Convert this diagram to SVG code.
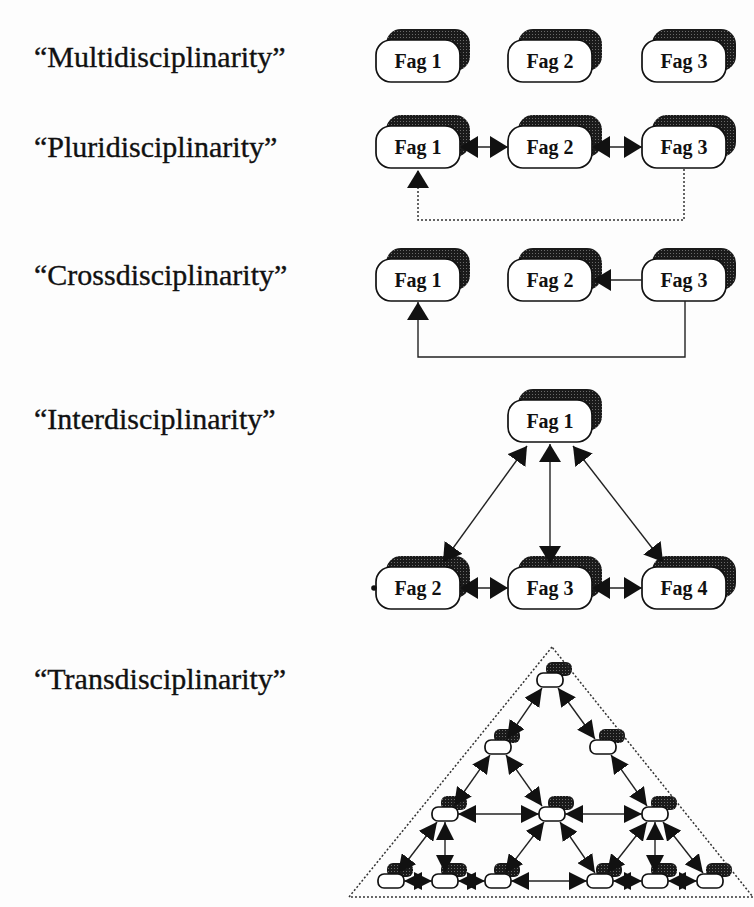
<svg xmlns="http://www.w3.org/2000/svg" width="754" height="907" viewBox="0 0 754 907">
<defs>
<style>
.lbl{font-family:"Liberation Serif","Times New Roman",serif;font-size:30px;fill:#111;stroke:#111;stroke-width:0.35}
.nt{font-family:"Liberation Serif","Times New Roman",serif;font-size:20px;font-weight:bold;fill:#111;text-anchor:middle}
.box{fill:#fff;stroke:#111;stroke-width:1.7}
.sh{fill:url(#ht)}
.ln{fill:none;stroke:#222;stroke-width:1.4}
.dot{fill:none;stroke:#333;stroke-width:1.5;stroke-dasharray:2 2}
.arr{marker-start:url(#a);marker-end:url(#a)}
.arr1{marker-end:url(#a)}
.sarr{marker-start:url(#s);marker-end:url(#s)}
</style>
<pattern id="ht" width="3" height="3" patternUnits="userSpaceOnUse"><rect width="3" height="3" fill="#1a1a1a"/><rect x="1" y="1" width="1" height="1" fill="#6a6a6a"/></pattern>
<marker id="a" viewBox="0 0 18 22" refX="18" refY="11" markerWidth="18" markerHeight="22" markerUnits="userSpaceOnUse" orient="auto-start-reverse"><path d="M0,0 L18,11 L0,22 z" fill="#111"/></marker>
<marker id="s" viewBox="0 0 18 18" refX="18" refY="9" markerWidth="18" markerHeight="18" markerUnits="userSpaceOnUse" orient="auto-start-reverse"><path d="M0,0 L18,9 L0,18 z" fill="#111"/></marker>
</defs>
<rect width="754" height="907" fill="#fdfdfd"/>

<g id="labels">
<text class="lbl" x="34" y="67">“Multidisciplinarity”</text>
<text class="lbl" x="34" y="157">“Pluridisciplinarity”</text>
<text class="lbl" x="34" y="285">“Crossdisciplinarity”</text>
<text class="lbl" x="34" y="429">“Interdisciplinarity”</text>
<text class="lbl" x="34" y="689">“Transdisciplinarity”</text>
</g>

<!-- Multidisciplinarity -->
<g id="m1"><rect class="sh" x="386" y="29" width="84" height="42" rx="15"/><rect class="box" x="376" y="40" width="84" height="42" rx="15"/><text class="nt" x="418" y="68">Fag 1</text></g>
<g id="m2"><rect class="sh" x="518" y="29" width="84" height="42" rx="15"/><rect class="box" x="508" y="40" width="84" height="42" rx="15"/><text class="nt" x="550" y="68">Fag 2</text></g>
<g id="m3"><rect class="sh" x="652" y="29" width="84" height="42" rx="15"/><rect class="box" x="642" y="40" width="84" height="42" rx="15"/><text class="nt" x="684" y="68">Fag 3</text></g>

<!-- Pluridisciplinarity -->
<g id="p1"><rect class="sh" x="386" y="115" width="84" height="42" rx="15"/><rect class="box" x="376" y="126" width="84" height="42" rx="15"/><text class="nt" x="418" y="154">Fag 1</text></g>
<g id="p2"><rect class="sh" x="518" y="115" width="84" height="42" rx="15"/><rect class="box" x="508" y="126" width="84" height="42" rx="15"/><text class="nt" x="550" y="154">Fag 2</text></g>
<g id="p3"><rect class="sh" x="652" y="115" width="84" height="42" rx="15"/><rect class="box" x="642" y="126" width="84" height="42" rx="15"/><text class="nt" x="684" y="154">Fag 3</text></g>

<!-- Crossdisciplinarity -->
<g id="c1"><rect class="sh" x="386" y="248" width="84" height="42" rx="15"/><rect class="box" x="376" y="259" width="84" height="42" rx="15"/><text class="nt" x="418" y="287">Fag 1</text></g>
<g id="c2"><rect class="sh" x="518" y="248" width="84" height="42" rx="15"/><rect class="box" x="508" y="259" width="84" height="42" rx="15"/><text class="nt" x="550" y="287">Fag 2</text></g>
<g id="c3"><rect class="sh" x="652" y="248" width="84" height="42" rx="15"/><rect class="box" x="642" y="259" width="84" height="42" rx="15"/><text class="nt" x="684" y="287">Fag 3</text></g>

<!-- Interdisciplinarity -->
<g id="i1"><rect class="sh" x="518" y="389" width="84" height="42" rx="15"/><rect class="box" x="508" y="400" width="84" height="42" rx="15"/><text class="nt" x="550" y="428">Fag 1</text></g>
<g id="i2"><rect class="sh" x="386" y="556" width="84" height="42" rx="15"/><rect class="box" x="376" y="567" width="84" height="42" rx="15"/><text class="nt" x="418" y="595">Fag 2</text><circle cx="374" cy="588" r="2.8" fill="#111"/></g>
<g id="i3"><rect class="sh" x="518" y="556" width="84" height="42" rx="15"/><rect class="box" x="508" y="567" width="84" height="42" rx="15"/><text class="nt" x="550" y="595">Fag 3</text></g>
<g id="i4"><rect class="sh" x="652" y="556" width="84" height="42" rx="15"/><rect class="box" x="642" y="567" width="84" height="42" rx="15"/><text class="nt" x="684" y="595">Fag 4</text></g>

<!-- Transdisciplinarity nodes -->
<g id="t0"><rect class="sh" x="546" y="662" width="26" height="14" rx="6"/><rect class="box" x="537" y="673" width="26" height="14" rx="6"/></g>
<g id="t1"><rect class="sh" x="494" y="729" width="26" height="14" rx="6"/><rect class="box" x="485" y="740" width="26" height="14" rx="6"/></g>
<g id="t2"><rect class="sh" x="599" y="729" width="26" height="14" rx="6"/><rect class="box" x="590" y="740" width="26" height="14" rx="6"/></g>
<g id="t3"><rect class="sh" x="441" y="796" width="26" height="14" rx="6"/><rect class="box" x="432" y="807" width="26" height="14" rx="6"/></g>
<g id="t4"><rect class="sh" x="548" y="796" width="26" height="14" rx="6"/><rect class="box" x="539" y="807" width="26" height="14" rx="6"/></g>
<g id="t5"><rect class="sh" x="651" y="796" width="26" height="14" rx="6"/><rect class="box" x="642" y="807" width="26" height="14" rx="6"/></g>
<g id="t6"><rect class="sh" x="387" y="863" width="26" height="14" rx="6"/><rect class="box" x="378" y="874" width="26" height="14" rx="6"/></g>
<g id="t7"><rect class="sh" x="441" y="863" width="26" height="14" rx="6"/><rect class="box" x="432" y="874" width="26" height="14" rx="6"/></g>
<g id="t8"><rect class="sh" x="494" y="863" width="26" height="14" rx="6"/><rect class="box" x="485" y="874" width="26" height="14" rx="6"/></g>
<g id="t9"><rect class="sh" x="596" y="863" width="26" height="14" rx="6"/><rect class="box" x="587" y="874" width="26" height="14" rx="6"/></g>
<g id="t10"><rect class="sh" x="651" y="863" width="26" height="14" rx="6"/><rect class="box" x="642" y="874" width="26" height="14" rx="6"/></g>
<g id="t11"><rect class="sh" x="706" y="863" width="26" height="14" rx="6"/><rect class="box" x="697" y="874" width="26" height="14" rx="6"/></g>

<g id="frame"><path class="dot" d="M552,647 L349,897 L753,897 Z"/></g>

<g id="connectors">
<!-- pluri -->
<line class="ln arr" x1="460" y1="147" x2="508" y2="147"/>
<line class="ln arr" x1="592" y1="147" x2="642" y2="147"/>
<path class="dot arr1" d="M684,169 V220 H418 V170"/>
<!-- cross -->
<line class="ln arr1" x1="642" y1="280" x2="593" y2="280"/>
<path class="ln arr1" d="M685,301 V357 H418 V302"/>
<!-- inter -->
<line class="ln arr" x1="550" y1="444" x2="550" y2="564"/>
<line class="ln arr" x1="527" y1="446" x2="443" y2="562"/>
<line class="ln arr" x1="573" y1="446" x2="663" y2="562"/>
<line class="ln arr" x1="460" y1="588" x2="508" y2="588"/>
<line class="ln arr" x1="592" y1="588" x2="642" y2="588"/>
<!-- trans -->
<line class="ln sarr" x1="542" y1="688" x2="507" y2="739"/>
<line class="ln sarr" x1="558" y1="688" x2="595" y2="739"/>
<line class="ln sarr" x1="490" y1="755" x2="454" y2="806"/>
<line class="ln sarr" x1="506" y1="755" x2="542" y2="806"/>
<line class="ln sarr" x1="611" y1="755" x2="647" y2="806"/>
<line class="ln sarr" x1="458" y1="814" x2="539" y2="814"/>
<line class="ln sarr" x1="565" y1="814" x2="642" y2="814"/>
<line class="ln sarr" x1="437" y1="822" x2="398" y2="873"/>
<line class="ln sarr" x1="445" y1="822" x2="445" y2="873"/>
<line class="ln sarr" x1="544" y1="822" x2="505" y2="873"/>
<line class="ln sarr" x1="560" y1="822" x2="595" y2="873"/>
<line class="ln sarr" x1="647" y1="822" x2="607" y2="873"/>
<line class="ln sarr" x1="655" y1="822" x2="655" y2="873"/>
<line class="ln sarr" x1="663" y1="822" x2="703" y2="873"/>
<line class="ln sarr" x1="404" y1="881" x2="432" y2="881"/>
<line class="ln sarr" x1="458" y1="881" x2="485" y2="881"/>
<line class="ln sarr" x1="511" y1="881" x2="587" y2="881"/>
<line class="ln sarr" x1="613" y1="881" x2="642" y2="881"/>
<line class="ln sarr" x1="668" y1="881" x2="697" y2="881"/>
</g>
</svg>
